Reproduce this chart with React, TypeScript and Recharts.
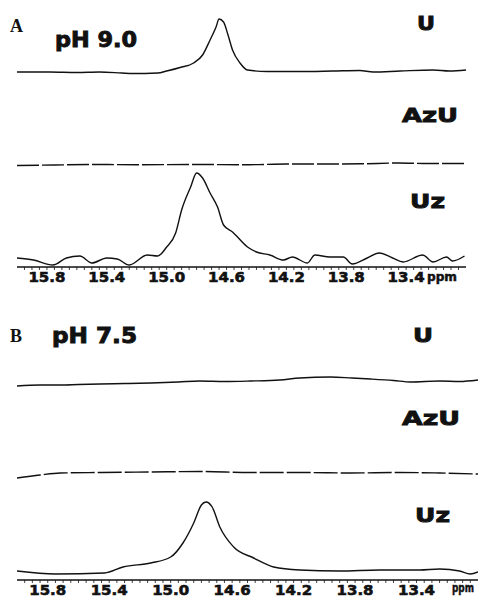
import React from "react";
import { LineChart, Line, XAxis, YAxis } from "recharts";

// panel A (pH 9.0) traces, intensity above each trace's own baseline
const ppmAU = [16.0, 15.98, 15.78, 15.6, 15.45, 15.3, 15.23, 15.06, 15.0, 14.91, 14.82, 14.76, 14.71, 14.67, 14.65, 14.62, 14.59, 14.56, 14.51, 14.46, 14.33, 14.11, 13.89, 13.71, 13.62, 13.44, 13.22, 13.11, 13.0];
const intAU = [0, 0, 0, -0.5, 0, -1, -1.5, -1, 1, 4.5, 9, 17, 32, 45, 53, 50, 37, 22, 9, 2, 0.5, 0.5, 1, 1.5, 0, 1, 2, 1, 2];

const ppmAAzU = [16.0, 15.75, 15.5, 15.2, 14.85, 14.45, 14.2, 13.95, 13.7, 13.45, 13.25, 13.0];
const intAAzU = [-0.5, 0, 0.5, 0.3, 0.5, 0.3, 1, 1, 1.2, 2, 1.5, 1.5];

const ppmAUz = [16.0, 15.89, 15.76, 15.67, 15.58, 15.5, 15.4, 15.33, 15.25, 15.13, 15.06, 15.0, 14.94, 14.9, 14.84, 14.8, 14.76, 14.71, 14.66, 14.62, 14.56, 14.46, 14.4, 14.31, 14.22, 14.16, 14.06, 14.01, 13.91, 13.82, 13.76, 13.66, 13.58, 13.49, 13.42, 13.29, 13.22, 13.13, 13.09, 13.01];
const intAUz = [5, 3, -2, 5, 7, 0, 5, 4, -2, 8, 7, 16, 30, 53, 76, 90, 85, 70, 56, 38, 31, 16, 11, 8, 3, 6, 0, 8, 6, 6, -1, 5, 10, 5, 1, 8, 1, 6, 2, 7];

// panel B (pH 7.5)
const ppmBU = [16.0, 15.85, 15.72, 15.6, 15.46, 15.3, 15.13, 14.95, 14.81, 14.65, 14.48, 14.29, 14.16, 13.96, 13.82, 13.7, 13.55, 13.44, 13.25, 13.12, 13.0];
const intBU = [-4, -3, -3, -2.5, -2, -1.5, -1, 0, 1, 0.5, 1, 2, 4, 5, 4, 3, 1.5, 0, 1, 0.5, 2];

const ppmBAzU = [16.0, 15.85, 15.72, 15.45, 15.13, 14.81, 14.48, 14.16, 13.83, 13.51, 13.25, 13.0];
const intBAzU = [-5, -2, 0, 0.5, 1, 1.5, 0.5, 0.5, 0, 0.5, 0, -1];

const ppmBUz = [16.0, 15.75, 15.43, 15.31, 15.13, 15.0, 14.92, 14.85, 14.8, 14.77, 14.73, 14.68, 14.59, 14.46, 14.33, 14.16, 13.9, 13.64, 13.38, 13.25, 13.12, 13.05, 13.0];
const intBUz = [1, -2, -1, 5, 9, 15, 29, 49, 67, 70, 65, 45, 25, 14, 5, 2, 1, 2, 2, 3, 1, -2, 0];

const majorTicks = [15.8, 15.4, 15.0, 14.6, 14.2, 13.8, 13.4];
const minorTicks = Array.from({ length: 59 }, (_, i) => Number((13.05 + i * 0.05).toFixed(2)));

const toRows = (ppm: number[], val: number[], base: number) =>
  ppm.map((p, i) => ({ ppm: p, v: val[i] + base }));

const BOLD = "'DejaVu Sans', sans-serif";

const TickLabel = (props: any) => {
  const { x, y, payload } = props;
  const v = Number(payload.value);
  if (!majorTicks.some((m) => Math.abs(m - v) < 0.001)) return <g />;
  return (
    <text
      x={x}
      y={y + 10}
      textAnchor="middle"
      fontFamily={BOLD}
      fontWeight="bold"
      fontSize={14}
      textLength={37}
      lengthAdjust="spacingAndGlyphs"
      fill="#111"
      stroke="#111"
      strokeWidth={0.6}
    >
      {v.toFixed(1)}
    </text>
  );
};

const Panel = ({ traces, height, plotH, axisH, right }: any) => (
  <LineChart
    width={481}
    height={height}
    margin={{ top: 10, right, left: 17, bottom: 0 }}
  >
    <XAxis
      type="number"
      dataKey="ppm"
      domain={[13.0, 16.0]}
      reversed
      allowDataOverflow
      ticks={minorTicks}
      interval={0}
      tickSize={3}
      tickMargin={2}
      height={axisH}
      axisLine={{ stroke: "#111", strokeWidth: 1.5 }}
      tickLine={{ stroke: "#111", strokeWidth: 0.8 }}
      tick={<TickLabel />}
    />
    <YAxis hide domain={[0, plotH]} allowDataOverflow />
    {traces.map((t: any) => (
      <Line
        key={t.name}
        data={t.rows}
        dataKey="v"
        type="monotone"
        stroke="#111"
        strokeWidth={1.4}
        strokeDasharray={t.dash}
        dot={false}
        isAnimationActive={false}
      />
    ))}
  </LineChart>
);

const Lbl = ({ x, y, w, size = 20, children }: any) => (
  <text
    x={x}
    y={y}
    fontFamily={BOLD}
    fontWeight="bold"
    fontSize={size}
    textLength={w}
    lengthAdjust="spacingAndGlyphs"
    fill="#111"
    stroke="#111"
    strokeWidth={size > 14 ? 0.9 : 0.5}
  >
    {children}
  </text>
);

export default function App() {
  const tracesA = [
    { name: "U", rows: toRows(ppmAU, intAU, 195) },
    { name: "AzU", rows: toRows(ppmAAzU, intAAzU, 102), dash: "22 3" },
    { name: "Uz", rows: toRows(ppmAUz, intAUz, 4) },
  ];
  const tracesB = [
    { name: "U", rows: toRows(ppmBU, intBU, 198) },
    { name: "AzU", rows: toRows(ppmBAzU, intBAzU, 107), dash: "24 3" },
    { name: "Uz", rows: toRows(ppmBUz, intBUz, 8) },
  ];
  return (
    <div style={{ position: "absolute", left: 0, top: 0, width: 481, height: 599, background: "#fff" }}>
      <div style={{ position: "absolute", left: 0, top: 0 }}>
        <Panel traces={tracesA} height={292} plotH={257} axisH={25} right={15} />
      </div>
      <div style={{ position: "absolute", left: 0, top: 300 }}>
        <Panel traces={tracesB} height={299} plotH={270} axisH={19} right={3} />
      </div>
      <svg width={481} height={599} style={{ position: "absolute", left: 0, top: 0, pointerEvents: "none" }}>
        <text x={10} y={32} fontFamily="'Liberation Serif', serif" fontWeight="bold" fontSize={18} fill="#111">A</text>
        <Lbl x={55} y={47} w={82} size={21}>pH 9.0</Lbl>
        <Lbl x={417} y={30} w={18}>U</Lbl>
        <Lbl x={402} y={122} w={56}>AzU</Lbl>
        <Lbl x={410} y={208} w={35}>Uz</Lbl>
        <Lbl x={427} y={281} w={30} size={12}>ppm</Lbl>

        <text x={10} y={342} fontFamily="'Liberation Serif', serif" fontWeight="bold" fontSize={18} fill="#111">B</text>
        <Lbl x={52} y={343} w={85} size={21}>pH 7.5</Lbl>
        <Lbl x={413} y={342} w={20}>U</Lbl>
        <Lbl x={402} y={425} w={58}>AzU</Lbl>
        <Lbl x={415} y={522} w={35}>Uz</Lbl>
        <Lbl x={452} y={592} w={22} size={12}>ppm</Lbl>
      </svg>
    </div>
  );
}
